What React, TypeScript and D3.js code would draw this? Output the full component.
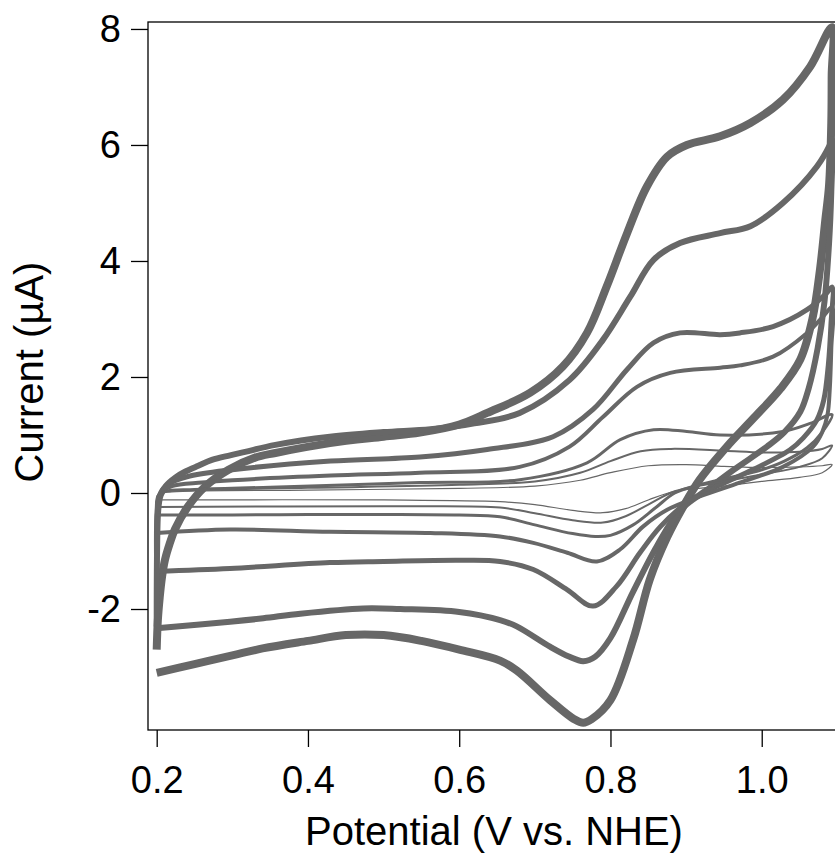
import { useEffect, useRef } from 'react'
import * as d3 from 'd3'

// potential (V vs. NHE), current (µA) pairs, forward sweep then reverse
const scan1: [number, number][] = [
  [0.2, -2.7], [0.2015, -2.2], [0.204, -1.8], [0.207, -1.45], [0.211, -1.15], [0.217, -0.88],
  [0.224, -0.63], [0.241, -0.24], [0.264, 0.11], [0.295, 0.4], [0.33, 0.61], [0.357, 0.69],
  [0.429, 0.86], [0.5, 0.97], [0.548, 1.04], [0.6, 1.18], [0.637, 1.38], [0.694, 1.73],
  [0.737, 2.18], [0.769, 2.76], [0.795, 3.56], [0.822, 4.48], [0.848, 5.28], [0.875, 5.8],
  [0.901, 6.0], [0.945, 6.15], [0.985, 6.38], [1.028, 6.78], [1.064, 7.35], [1.093, 8.03],
  [1.0925, 7.2], [1.092, 6.4], [1.089, 5.3], [1.084, 4.7], [1.077, 3.85], [1.067, 3.0],
  [1.051, 2.3], [1.025, 1.8], [0.99, 1.3], [0.954, 0.8], [0.918, 0.23], [0.896, -0.24],
  [0.875, -0.76], [0.852, -1.49], [0.83, -2.53], [0.8, -3.57], [0.775, -3.9], [0.764, -3.96],
  [0.752, -3.9], [0.72, -3.57], [0.676, -3.06], [0.654, -2.89], [0.6, -2.7], [0.55, -2.55],
  [0.5, -2.45], [0.45, -2.45], [0.4, -2.55], [0.34, -2.68], [0.3, -2.8], [0.25, -2.95], [0.2, -3.1],
]

const scan2: [number, number][] = [
  [0.2, -2.3], [0.2005, -1.0], [0.202, -0.3], [0.205, -0.05], [0.212, 0.12], [0.225, 0.27],
  [0.238, 0.37], [0.255, 0.47], [0.273, 0.57], [0.297, 0.65], [0.317, 0.71], [0.357, 0.83],
  [0.429, 0.97], [0.5, 1.05], [0.562, 1.1], [0.62, 1.2], [0.68, 1.38], [0.746, 1.95],
  [0.79, 2.64], [0.826, 3.38], [0.857, 4.02], [0.892, 4.31], [0.945, 4.48], [0.985, 4.6],
  [1.028, 5.0], [1.073, 5.63], [1.09, 6.0], [1.093, 6.1],
  [1.092, 5.2], [1.089, 4.3], [1.083, 3.3], [1.074, 2.5], [1.062, 1.8], [1.051, 1.4],
  [1.03, 1.05], [1.007, 0.8], [0.963, 0.4], [0.928, 0.06], [0.892, -0.3], [0.862, -0.9],
  [0.83, -1.7], [0.8, -2.5], [0.78, -2.82], [0.764, -2.9], [0.745, -2.82], [0.72, -2.65],
  [0.676, -2.3], [0.654, -2.19], [0.6, -2.05], [0.522, -2.0], [0.473, -1.99], [0.39, -2.08],
  [0.341, -2.16], [0.297, -2.22], [0.2, -2.33],
]

const scan3: [number, number][] = [
  [0.2, -1.35], [0.2008, -0.3], [0.205, 0.0], [0.215, 0.15], [0.24, 0.28], [0.3, 0.4],
  [0.43, 0.55], [0.548, 0.62], [0.637, 0.75], [0.724, 0.97], [0.777, 1.44], [0.822, 2.13],
  [0.857, 2.59], [0.892, 2.76], [0.945, 2.73], [0.971, 2.76], [1.015, 2.87], [1.06, 3.16],
  [1.086, 3.45], [1.093, 3.55],
  [1.0915, 2.9], [1.088, 2.2], [1.082, 1.6], [1.073, 1.26], [1.055, 0.95], [1.037, 0.74],
  [0.988, 0.4], [0.94, 0.11], [0.901, -0.17], [0.866, -0.58], [0.839, -1.03], [0.808, -1.61],
  [0.777, -1.95], [0.743, -1.67], [0.698, -1.32], [0.654, -1.18], [0.6, -1.16], [0.5, -1.18],
  [0.429, -1.2], [0.297, -1.3], [0.2, -1.35],
]

const scan4: [number, number][] = [
  [0.2, -0.69], [0.2008, -0.2], [0.205, 0.0], [0.22, 0.12], [0.26, 0.18], [0.3, 0.22],
  [0.43, 0.3], [0.548, 0.35], [0.68, 0.45], [0.746, 0.8], [0.79, 1.31], [0.835, 1.83],
  [0.879, 2.07], [0.945, 2.16], [0.971, 2.2], [1.015, 2.35], [1.06, 2.76], [1.081, 3.04],
  [1.093, 3.2],
  [1.092, 2.5], [1.09, 1.8], [1.087, 1.35], [1.08, 1.05], [1.068, 0.8], [1.028, 0.45],
  [0.971, 0.18], [0.918, -0.06], [0.875, -0.29], [0.843, -0.58], [0.813, -0.97], [0.782, -1.18],
  [0.743, -1.03], [0.698, -0.86], [0.654, -0.75], [0.562, -0.69], [0.429, -0.67], [0.297, -0.63],
  [0.2, -0.69],
]

const scan5: [number, number][] = [
  [0.2, -0.38], [0.201, -0.1], [0.21, 0.02], [0.25, 0.06], [0.35, 0.1], [0.548, 0.18],
  [0.68, 0.23], [0.769, 0.52], [0.813, 0.92], [0.857, 1.09], [0.901, 1.06], [0.945, 1.0],
  [1.028, 1.06], [1.064, 1.2], [1.093, 1.35],
  [1.08, 1.05], [1.06, 0.78], [1.03, 0.55], [1.0, 0.4], [0.96, 0.27], [0.92, 0.15],
  [0.885, 0.0], [0.86, -0.25], [0.83, -0.55], [0.8, -0.73], [0.78, -0.75], [0.75, -0.7],
  [0.7, -0.55], [0.654, -0.41], [0.6, -0.38], [0.5, -0.37], [0.4, -0.37], [0.3, -0.38], [0.2, -0.38],
]

const scan6: [number, number][] = [
  [0.2, -0.24], [0.201, -0.05], [0.21, 0.02], [0.25, 0.05], [0.4, 0.09], [0.6, 0.14],
  [0.7, 0.2], [0.76, 0.35], [0.8, 0.55], [0.84, 0.72], [0.88, 0.76], [0.95, 0.73],
  [1.0, 0.7], [1.05, 0.71], [1.08, 0.76], [1.093, 0.82],
  [1.08, 0.6], [1.05, 0.45], [1.0, 0.32], [0.95, 0.2], [0.885, 0.03], [0.85, -0.2],
  [0.82, -0.4], [0.79, -0.51], [0.75, -0.47], [0.7, -0.35], [0.654, -0.25], [0.5, -0.23], [0.2, -0.24],
]

const scan7: [number, number][] = [
  [0.2, -0.12], [0.202, -0.02], [0.22, 0.02], [0.4, 0.05], [0.6, 0.08], [0.7, 0.12],
  [0.76, 0.22], [0.8, 0.35], [0.85, 0.47], [0.9, 0.49], [0.95, 0.46], [1.0, 0.44],
  [1.05, 0.45], [1.08, 0.47], [1.093, 0.49],
  [1.08, 0.35], [1.05, 0.27], [1.0, 0.2], [0.95, 0.12], [0.885, 0.03], [0.85, -0.12],
  [0.82, -0.27], [0.79, -0.34], [0.75, -0.3], [0.7, -0.2], [0.654, -0.15], [0.5, -0.12], [0.2, -0.12],
]

const scans = [scan1, scan2, scan3, scan4, scan5, scan6, scan7]
const strokeWidths = [8, 6, 5, 4, 3, 2, 1.2]

const xTicks = [0.2, 0.4, 0.6, 0.8, 1.0]
const yTicks = [-2, 0, 2, 4, 6, 8]

const W = 835
const H = 853
const FONT = '"Liberation Sans", Arial, sans-serif'

function App() {
  const ref = useRef<SVGSVGElement>(null)

  useEffect(() => {
    const svg = d3.select(ref.current)
    svg.selectAll('*').remove()

    const left = 148
    const top = 22
    const bottom = 730
    const right = 840

    const x = d3.scaleLinear().domain([0.1885, 1.1035]).range([left, right])
    const y = d3.scaleLinear().domain([-4.086, 8.12]).range([bottom, top])

    svg
      .append('rect')
      .attr('x', left)
      .attr('y', top)
      .attr('width', right - left)
      .attr('height', bottom - top)
      .attr('fill', 'none')
      .attr('stroke', '#000')
      .attr('stroke-width', 1.3)

    const line = d3
      .line<[number, number]>()
      .x((d) => x(d[0]))
      .y((d) => y(d[1]))
      .curve(d3.curveCatmullRom.alpha(0.5))

    scans.forEach((s, i) => {
      svg
        .append('path')
        .attr('d', line(s))
        .attr('fill', 'none')
        .attr('stroke', '#676767')
        .attr('stroke-width', strokeWidths[i])
        .attr('stroke-linejoin', 'round')
        .attr('stroke-linecap', 'butt')
    })

    svg
      .append('g')
      .attr('transform', `translate(0,${bottom})`)
      .call(d3.axisBottom(x).tickValues(xTicks).tickSize(17).tickPadding(19).tickFormat(d3.format('.1f')))
      .call((g) => g.select('.domain').remove())
      .call((g) => g.selectAll('line').attr('stroke', '#000').attr('stroke-width', 1.3))
      .call((g) => g.selectAll('text').attr('font-size', 38).attr('font-family', FONT).attr('fill', '#000'))

    svg
      .append('g')
      .attr('transform', `translate(${left},0)`)
      .call(d3.axisLeft(y).tickValues(yTicks).tickSize(17).tickPadding(10).tickFormat((d) => String(d)))
      .call((g) => g.select('.domain').remove())
      .call((g) => g.selectAll('line').attr('stroke', '#000').attr('stroke-width', 1.3))
      .call((g) => g.selectAll('text').attr('font-size', 38).attr('font-family', FONT).attr('fill', '#000'))

    svg
      .append('text')
      .attr('x', 494)
      .attr('y', 845)
      .attr('text-anchor', 'middle')
      .attr('font-size', 40)
      .attr('font-family', FONT)
      .text('Potential (V vs. NHE)')

    svg
      .append('text')
      .attr('transform', 'translate(43,372) rotate(-90)')
      .attr('text-anchor', 'middle')
      .attr('font-size', 40)
      .attr('font-family', FONT)
      .text('Current (µA)')
  }, [])

  return (
    <svg
      ref={ref}
      width={W}
      height={H}
      style={{ position: 'absolute', left: 0, top: 0, background: '#fff' }}
    />
  )
}

export default App
